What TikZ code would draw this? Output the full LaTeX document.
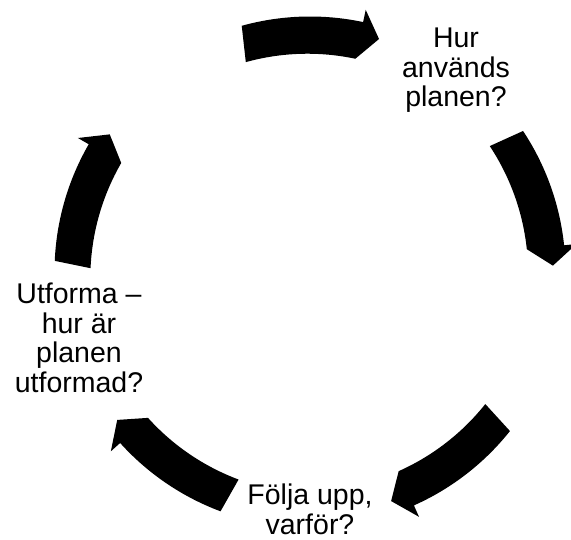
\documentclass[tikz,border=0pt]{standalone}
\usepackage{fontspec}
\setmainfont{Liberation Sans}
\begin{document}
\begin{tikzpicture}[x=1pt,y=1pt,
  lbl/.style={inner sep=0pt, align=center, anchor=north,
    font=\fontsize{28.5pt}{29.5pt}\selectfont, text=black},
  cyc/.style={fill=black, draw=none}]
\useasboundingbox (0,0) rectangle (571,539);
\def\R{243}
\def\w{12.5}
\def\hw{25}
\begin{scope}[shift={(310,267)}]
\foreach \m in {90,18,-54,-126,162}{
  \pgfmathsetmacro\ta{\m+15.5}
  \pgfmathsetmacro\hb{\m-12}
  \pgfmathsetmacro\tp{\m-16.5}
  \fill[cyc] (\ta:\R+\w) arc[start angle=\ta, end angle=\hb, radius=\R+\w]
    -- (\hb:\R+\hw) -- (\tp:\R) -- (\hb:\R-\hw)
    arc[start angle=\hb, end angle=\ta, radius=\R-\w] -- cycle;
}
\end{scope}
\node[lbl] (use) at (456,511) {Hur\\används\\planen?};
\node[lbl] (form) at (79,256) {Utforma –\\hur är\\planen\\utformad?};
\node[lbl] (follow) at (310,55) {Följa upp,\\varför?};
\end{tikzpicture}
\end{document}
